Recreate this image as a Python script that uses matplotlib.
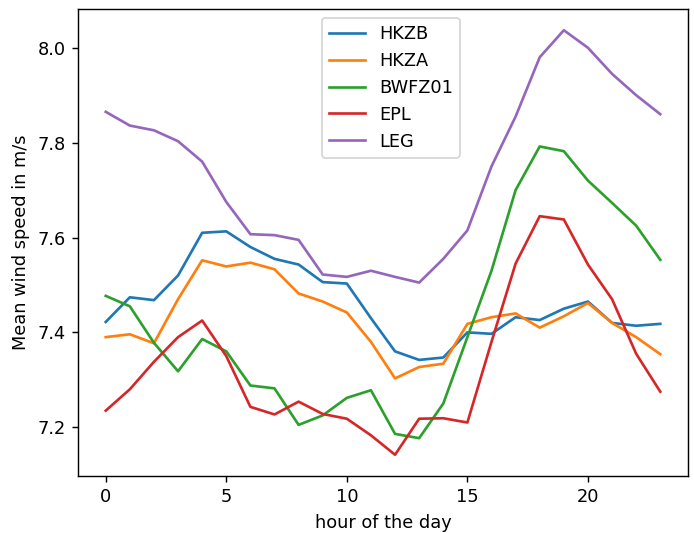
import matplotlib
matplotlib.use("Agg")
import matplotlib.pyplot as plt

hours = list(range(24))
hkzb = [7.422, 7.474, 7.468, 7.520, 7.610, 7.613, 7.580, 7.555, 7.543, 7.506, 7.503, 7.430,
        7.360, 7.342, 7.347, 7.400, 7.397, 7.432, 7.426, 7.450, 7.465, 7.420, 7.414, 7.418]
hkza = [7.390, 7.396, 7.377, 7.470, 7.552, 7.539, 7.547, 7.533, 7.482, 7.465, 7.442, 7.380,
        7.303, 7.327, 7.334, 7.418, 7.432, 7.440, 7.410, 7.434, 7.462, 7.420, 7.390, 7.354]
bwfz01 = [7.477, 7.455, 7.378, 7.318, 7.386, 7.360, 7.288, 7.282, 7.205, 7.225, 7.262, 7.278,
          7.186, 7.177, 7.250, 7.390, 7.530, 7.700, 7.792, 7.782, 7.720, 7.673, 7.625, 7.553]
epl = [7.235, 7.280, 7.338, 7.390, 7.425, 7.350, 7.243, 7.227, 7.254, 7.228, 7.218, 7.183,
       7.142, 7.218, 7.219, 7.210, 7.380, 7.545, 7.645, 7.638, 7.543, 7.470, 7.355, 7.275]
leg = [7.865, 7.836, 7.826, 7.803, 7.760, 7.675, 7.607, 7.605, 7.595, 7.522, 7.517, 7.530,
       7.517, 7.505, 7.555, 7.615, 7.750, 7.855, 7.980, 8.037, 8.000, 7.945, 7.900, 7.860]

series = [("HKZB", hkzb), ("HKZA", hkza), ("BWFZ01", bwfz01), ("EPL", epl), ("LEG", leg)]

DPI = 128
fig = plt.figure(figsize=(694 / DPI, 533 / DPI), dpi=DPI)
ax = fig.add_axes([78 / 694, 1 - 476 / 533, (688 - 78) / 694, (476 - 9) / 533])
for name, vals in series:
    ax.plot(hours, vals, label=name, linewidth=1.5)
ax.set_xlabel("hour of the day")
ax.set_ylabel("Mean wind speed in m/s")
ax.set_xticks([0, 5, 10, 15, 20])
ax.legend(loc="upper center", bbox_to_anchor=(0.513, 1.0))
fig.savefig("out.png", dpi=DPI)
